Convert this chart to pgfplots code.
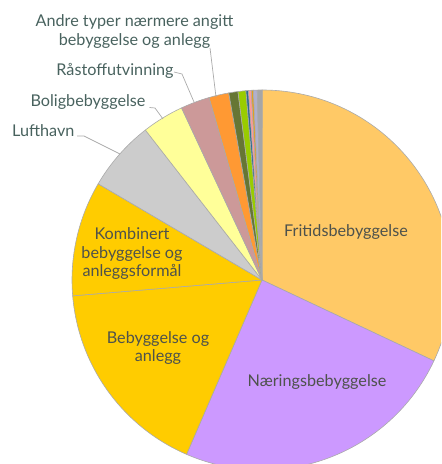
\documentclass[border=0pt]{standalone}
\usepackage{pgfplots}
\pgfplotsset{compat=1.18}
\usepackage{pgfplotstable}
\usepackage{fontspec}
\setmainfont{Lato}

\definecolor{cFritid}{RGB}{255,201,102}
\definecolor{cNaering}{RGB}{204,153,255}
\definecolor{cBebygg}{RGB}{255,204,0}
\definecolor{cKomb}{RGB}{255,204,0}
\definecolor{cLuft}{RGB}{204,204,204}
\definecolor{cBolig}{RGB}{255,255,153}
\definecolor{cRaa}{RGB}{204,153,153}
\definecolor{cAndre}{RGB}{255,153,51}
\definecolor{cOliv}{RGB}{102,118,52}
\definecolor{cLime}{RGB}{153,204,0}
\definecolor{cTeal}{RGB}{46,107,143}
\definecolor{cRosa}{RGB}{255,153,153}
\definecolor{cGull}{RGB}{224,160,32}
\definecolor{cLilla}{RGB}{176,176,204}
\definecolor{cGraa}{RGB}{166,166,166}
\definecolor{slicegray}{RGB}{170,170,170}
\definecolor{labout}{RGB}{72,98,94}
\definecolor{labin}{RGB}{78,82,76}

% andel i prosent, med uret fra kl. 12
\pgfplotstableread[col sep=comma]{
name,value,col
Fritidsbebyggelse,32.00,cFritid
Naeringsbebyggelse,24.50,cNaering
Bebyggelse og anlegg,17.17,cBebygg
Kombinert,9.78,cKomb
Lufthavn,6.03,cLuft
Boligbebyggelse,3.56,cBolig
Raastoffutvinning,2.47,cRaa
Andre typer,1.69,cAndre
Andre1,0.78,cOliv
Andre2,0.67,cLime
Andre3,0.21,cTeal
Andre4,0.24,cRosa
Andre5,0.18,cGull
Andre6,0.32,cLilla
Andre7,0.42,cGraa
}\piedata

\begin{document}
\begin{tikzpicture}
\begin{axis}[
    x=190pt, y=190pt,
    xmin=-1.378947, xmax=0.942105,
    ymin=-0.968421, ymax=1.473684,
    hide axis,
]
\pgfplotstablegetrowsof{\piedata}
\pgfmathtruncatemacro\nrows{\pgfplotsretval-1}
\def\cum{0}
\pgfplotsforeachungrouped \i in {0,...,\nrows}{%
    \pgfplotstablegetelem{\i}{value}\of\piedata
    \let\val\pgfplotsretval
    \pgfplotstablegetelem{\i}{col}\of\piedata
    \let\col\pgfplotsretval
    \pgfmathsetmacro\sa{90-3.6*\cum}
    \pgfmathsetmacro\cum{\cum+\val}
    \pgfmathsetmacro\ea{90-3.6*\cum}
    \pgfmathsetmacro\xs{cos(\sa)}
    \pgfmathsetmacro\ys{sin(\sa)}
    \edef\wedge{\noexpand\fill[fill=\col, draw=slicegray, line width=0.6pt, line join=round]
        (0,0) -- (\xs,\ys) arc[start angle=\sa, end angle=\ea, radius=190pt] -- cycle;}
    \wedge
}
\coordinate (tl) at (rel axis cs:0,1);
\coordinate (bl) at (rel axis cs:0,0);
\coordinate (tr) at (rel axis cs:1,1);
\end{axis}

% etiketter, i piksler fra øvre venstre hjørne
\begin{scope}[shift={(tl)}, x=1pt, y=-1pt, font=\fontsize{16.2}{19}\selectfont]
    \draw[slicegray, line width=0.7pt] (210,48) -- (216,97);
    \draw[slicegray, line width=0.7pt] (174,72) -- (182,74) -- (194,102);
    \draw[slicegray, line width=0.7pt] (149.5,107.5) -- (155,108) -- (163,119);
    \draw[slicegray, line width=0.7pt] (77,136) -- (84,136) -- (120,154);

    \node[labout, anchor=base, inner sep=0] at (134.5,26.3) {Andre typer nærmere angitt};
    \node[labout, anchor=base, inner sep=0] at (134.5,45.3) {bebyggelse og anlegg};
    \node[labout, anchor=base, inner sep=0] at (115,76) {Råstoffutvinning};
    \node[labout, anchor=base, inner sep=0] at (88,106.5) {Boligbebyggelse};
    \node[labout, anchor=base, inner sep=0] at (43.3,136.5) {Lufthavn};

    \node[labin, anchor=base, inner sep=0] at (132,239.3) {Kombinert};
    \node[labin, anchor=base, inner sep=0] at (132,258.3) {bebyggelse og};
    \node[labin, anchor=base, inner sep=0] at (132,276.7) {anleggsformål};
    \node[labin, anchor=base, inner sep=0] at (158,343.5) {Bebyggelse og};
    \node[labin, anchor=base, inner sep=0] at (158,361.7) {anlegg};
    \node[labin, anchor=base, inner sep=0] at (346,236.7) {Fritidsbebyggelse};
    \node[labin, anchor=base, inner sep=0] at (317,386.7) {Næringsbebyggelse};
\end{scope}
\pgfresetboundingbox
\useasboundingbox (bl) rectangle (tr);
\end{tikzpicture}
\end{document}
